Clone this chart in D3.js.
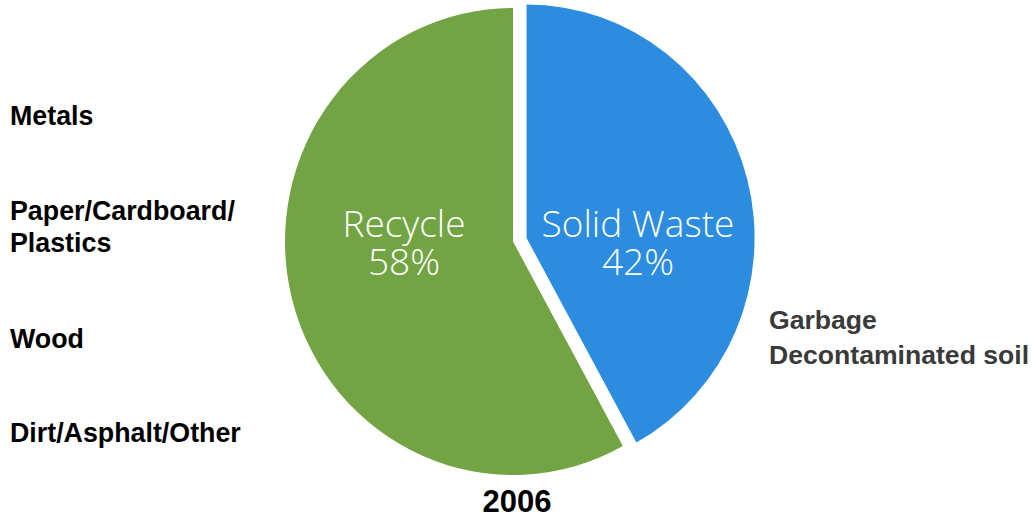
<!DOCTYPE html>
<html>
<head>
<meta charset="utf-8">
<script src="https://cdn.jsdelivr.net/npm/d3@7"></script>
<style>
body{margin:0;background:#fff;}
</style>
</head>
<body>
<svg id="chart" width="1032" height="519"></svg>
<script>
//数据
var categories = ["Recycle", "Solid Waste"];
var values = [58, 42];
var colors = ["#72a444", "#2b8ce0"];
var recycleItems = ["Metals", "Paper/Cardboard/|Plastics", "Wood", "Dirt/Asphalt/Other"];
var wasteItems = ["Garbage", "Decontaminated soil"];
var yearLabel = "2006";

var svg = d3.select("#chart");
var cx = 513, cy = 241.5, r = 228, sy = 1.024;
var explode = 14;

//饼图, 从顶部开始, 固体废物在右边
var pie = d3.pie().sort(null).value(function(d){ return d; })
	.startAngle(-2*Math.PI*values[0]/100).endAngle(2*Math.PI - 2*Math.PI*values[0]/100);
var arcs = pie(values);
var arc = d3.arc().innerRadius(0).outerRadius(r);

var g = svg.append("g")
	.attr("transform", "translate("+cx+","+cy+") scale(1,"+sy+")");

var slices = g.selectAll("g.slice").data(arcs).enter()
	.append("g")
	.attr("class", "slice")
	.attr("transform", function(d, i){
		if(i==1){
			var a = (d.startAngle+d.endAngle)/2;
			return "translate("+(Math.sin(a)*explode)+","+(-Math.cos(a)*explode)+")";
		}
		return null;
	});

slices.append("path")
	.attr("d", arc)
	.attr("fill", function(d, i){ return colors[i]; });

//扇区文字
var labelPos = [[404, 237], [638, 237]];
slices.each(function(d, i){
	var t = svg.append("text")
		.attr("x", labelPos[i][0])
		.attr("y", labelPos[i][1])
		.attr("text-anchor", "middle")
		.attr("fill", "#fff")
		.style("font-family", "'Open Sans', 'Liberation Sans', sans-serif")
		.style("font-size", "37px")
		.style("font-weight", "300");
	t.append("tspan").attr("x", labelPos[i][0]).text(categories[i]);
	t.append("tspan").attr("x", labelPos[i][0]).attr("dy", 38).text(values[i]+"%");
});

//左边的列表
var leftY = [125, 220, 348, 442];
recycleItems.forEach(function(s, i){
	var t = svg.append("text")
		.attr("x", 10)
		.attr("y", leftY[i])
		.attr("fill", "#000")
		.style("font-family", "'Liberation Sans', Arial, sans-serif")
		.style("font-size", "26.8px")
		.style("font-weight", "bold");
	s.split("|").forEach(function(line, j){
		t.append("tspan").attr("x", 10).attr("dy", j==0 ? 0 : 32).text(line);
	});
});

//右边的列表
wasteItems.forEach(function(s, i){
	svg.append("text")
		.attr("x", 769)
		.attr("y", 329 + i*35)
		.attr("fill", "#3a3a3a")
		.style("font-family", "'Liberation Sans', Arial, sans-serif")
		.style("font-size", "26.6px")
		.style("font-weight", "bold")
		.text(s);
});

svg.append("text")
	.attr("x", 517)
	.attr("y", 512)
	.attr("text-anchor", "middle")
	.attr("fill", "#000")
	.style("font-family", "'Liberation Sans', Arial, sans-serif")
	.style("font-size", "31px")
	.style("font-weight", "bold")
	.text(yearLabel);
</script>
</body>
</html>
